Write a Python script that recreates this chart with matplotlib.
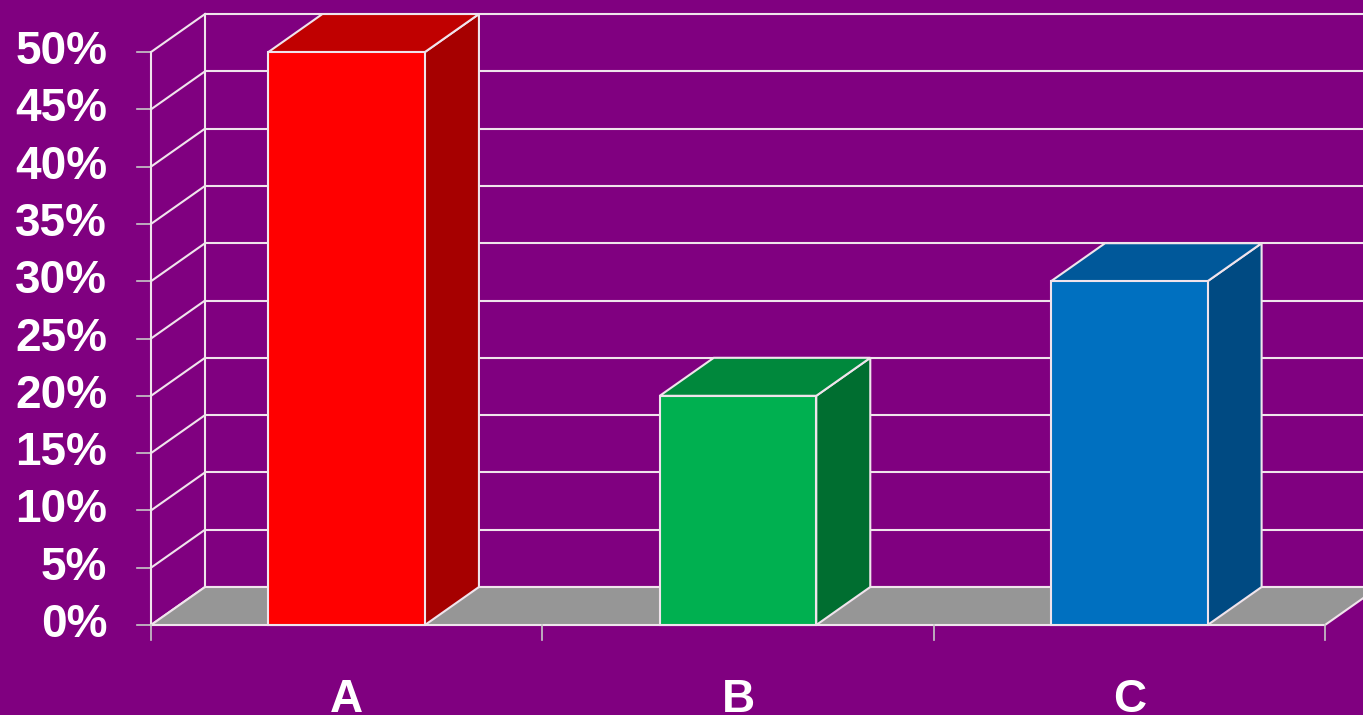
import numpy as np, matplotlib; matplotlib.use("Agg"); import matplotlib.pyplot as plt
from matplotlib.patches import Polygon
plt.rcParams.update({"font.family":["Liberation Sans","DejaVu Sans"],"font.weight":"bold"})

categories=["A","B","C"]
values=[50,20,30]
ticks=list(range(0,55,5))
tick_labels=[f"{t}%" for t in ticks]
front=["#FF0000","#00B050","#0070C0"]
side=["#A60000","#006E30","#004A82"]
top=["#C00000","#00883C","#00589A"]

BG="#800080"; LINE="#F0E4EC"; FLOOR="#969696"
DX,DY=0.138,3.316   # depth offset (category units, percent)
W=0.4
n=len(categories)

fig=plt.figure(figsize=(13.63,7.15),dpi=100,facecolor=BG)
ax=fig.add_axes([0,0,1,1]); ax.set_facecolor(BG); ax.axis("off")
ax.set_xlim(-0.3859,3.0971); ax.set_ylim(-7.853,54.54)

# back wall + left wall
for t,lab in zip(ticks,tick_labels):
    ax.plot([DX,n+DX],[t+DY,t+DY],color=LINE,lw=1.5,zorder=1,solid_capstyle="butt")
    ax.plot([0,DX],[t,t+DY],color=LINE,lw=1.5,zorder=1)
    ax.plot([-0.036,0],[t,t],color="#C8C8C8",lw=1.2,zorder=1)
    ax.text(-0.112,t,lab,ha="right",va="center",color="white",fontsize=33,fontweight="bold")
ax.plot([DX,DX],[DY,ticks[-1]+DY],color=LINE,lw=1.5,zorder=1)
ax.plot([0,0],[0,ticks[-1]],color=LINE,lw=1.5,zorder=1)

# floor
ax.add_patch(Polygon([(0,0),(n,0),(n+DX,DY),(DX,DY)],closed=True,fc=FLOOR,ec=LINE,lw=1.5,zorder=2))
for i in range(n+1):
    ax.plot([i,i],[0,-1.3],color="#C8C8C8",lw=1.2,zorder=2)

# bars
for i,(c,v) in enumerate(zip(categories,values)):
    x0=i+0.5-W/2; x1=x0+W
    ax.add_patch(Polygon([(x1,0),(x1+DX,DY),(x1+DX,v+DY),(x1,v)],closed=True,fc=side[i],ec=LINE,lw=1.5,zorder=3))
    ax.add_patch(Polygon([(x0,v),(x0+DX,v+DY),(x1+DX,v+DY),(x1,v)],closed=True,fc=top[i],ec=LINE,lw=1.5,zorder=3))
    ax.add_patch(Polygon([(x0,0),(x1,0),(x1,v),(x0,v)],closed=True,fc=front[i],ec=LINE,lw=1.5,zorder=4))
    ax.text(i+0.5,-7.6,c,ha="center",va="baseline",color="white",fontsize=33,fontweight="bold")

fig.savefig("out.png",dpi=100,facecolor=BG)
